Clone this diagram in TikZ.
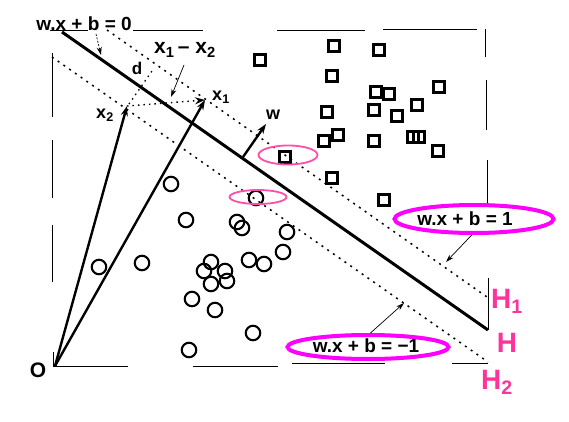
\documentclass[tikz,border=0pt]{standalone}
\usepackage{fontspec}
\setmainfont{Liberation Sans}
\usetikzlibrary{arrows.meta,shapes.geometric}
\definecolor{mag}{HTML}{FF00FF}
\definecolor{hpink}{HTML}{FF3399}
\definecolor{lpink}{HTML}{FF4FA8}
\tikzset{
  sq/.style={draw,rectangle,line width=2.6pt,minimum size=11pt,inner sep=0pt},
  ci/.style={draw,circle,line width=2.1pt,minimum size=14.5pt,inner sep=0pt},
  lab/.style={font=\bfseries\fontsize{19}{19}\selectfont,inner sep=0pt},
  slab/.style={font=\bfseries\fontsize{18}{18}\selectfont,inner sep=0pt},
  hlab/.style={font=\bfseries\fontsize{28}{28}\selectfont,text=hpink,inner sep=0pt},
  frame/.style={line width=0.9pt},
  hyper/.style={line width=3pt},
  margin/.style={line width=1.5pt,dash pattern=on 2pt off 5pt},
  vec/.style={line width=2.4pt,-{Stealth[length=10pt,width=7pt]}},
  thinarr/.style={line width=0.7pt,-{Stealth[length=8pt,width=5pt]}},
  dotarr/.style={line width=1.4pt,dash pattern=on 1.5pt off 4pt,-{Stealth[length=10pt,width=7pt]}},
  dotline/.style={line width=1.3pt,dash pattern=on 1.5pt off 4pt},
  bigell/.style={draw=mag,ellipse,line width=4pt,inner sep=0pt},
  smell/.style={draw=lpink,ellipse,line width=1.8pt,inner sep=0pt},
}
\begin{document}
\begin{tikzpicture}[x=1pt,y=-1pt]
\useasboundingbox (0,0) rectangle (569,422);
% frame
\draw[frame] (50,30)--(88,30) (133,30)--(203,30) (277,30)--(365,30) (383,29.5)--(477,29.5);
\draw[frame] (485,29)--(485,57) (486,80)--(486,130) (487,160)--(487,207) (488,278)--(488,330);
\draw[frame] (53,366)--(128,366) (193,366)--(278,366) (292,363)--(385,363) (452,363)--(488,363);
\draw[frame] (52,53)--(52,117) (52,140)--(52,198) (52,225)--(52,282) (53,352)--(53,366);
% hyperplanes
\coordinate (Hs) at (62,32); \coordinate (He) at (488,330);
\coordinate (H1s) at (107,30); \coordinate (H1e) at (487,297);
\coordinate (H2s) at (52,57); \coordinate (H2e) at (488,362);
\draw[hyper] (Hs)--(He);
\draw[margin] (H1s)--(H1e);
\draw[margin] (H2s)--(H2e);
% vectors
\coordinate (O) at (55,366);
\coordinate (x2t) at (127,106);
\coordinate (x1t) at (205,100);
\draw[vec] (O)--(x2t);
\draw[vec] (O)--(x1t);
\draw[dotarr] (x2t)--(x1t);
\coordinate (d1) at (129,104); \coordinate (d2) at (152,71);
\draw[dotline] (d1)--(d2);
\coordinate (ws) at (243,157); \coordinate (we) at (266,124);
\draw[vec] (ws)--(we);
% labels
\node[lab,anchor=base] (l0) at (84,31) {w.x + b = 0};
\coordinate (l0t) at (101,55);
\draw[thinarr,dash pattern=on 2pt off 1.5pt] (96,34) -- (l0t);
\node[font=\bfseries\fontsize{21}{21}\selectfont,inner sep=0pt] (ldiff) at (185,50) {x\textsubscript{1}\,– x\textsubscript{2}};
\coordinate (ldt) at (171,97);
\draw[thinarr] (184,65) -- (ldt);
\node[font=\bfseries\fontsize{17}{17}\selectfont,inner sep=0pt] (ld) at (137,68) {d};
\node[slab] (lx1) at (221,97) {x\textsubscript{1}};
\node[slab] (lx2) at (105,115) {x\textsubscript{2}};
\node[slab] (lw) at (273,115) {w};
\node[font=\bfseries\fontsize{21}{21}\selectfont,inner sep=0pt] (lO) at (38,370) {O};
\node[hlab,anchor=west] (lH1) at (491,301) {H\textsubscript{1}};
\node[hlab] (lH) at (507,343) {H};
\node[hlab,anchor=west] (lH2) at (481,382) {H\textsubscript{2}};
% ellipse labels
\node[bigell,minimum width=159pt,minimum height=28pt] (e1) at (474,219) {};
\node[lab] (t1) at (465,219) {w.x + b = 1};
\coordinate (e1t) at (446,262);
\draw[thinarr] (e1.262) -- (e1t);
\node[bigell,minimum width=161pt,minimum height=24pt] (e2) at (368,347) {};
\node[lab] (t2) at (366,346) {w.x + b = −1};
\coordinate (e2t) at (404,303);
\draw[thinarr] (e2.80) -- (e2t);
% squares
\foreach \n/\x/\y in {s1/334/46,s2/379/50,s3/332/76,s4/376/92,s5/389/94,s6/439/87,
  s7/327/112,s8/374/110,s9/397/116,s10/417/105,s11/324/141,s12/338/135,s13/374/141,
  s14/413/137,s15/419/137,s16/438/151,s17/332/178,s18/384/200,s19/285/157,s20/260/60}
  \node[sq] (\n) at (\x,\y) {};
% circles
\foreach \n/\x/\y in {c1/186/220,c2/237/222,c3/242/228,c4/287/232,c5/283/252,c6/99/267,
  c7/142/263,c8/211/262,c9/204/271,c10/225/271,c11/211/284,c12/227/281,c13/249/260,
  c14/264/264,c15/192/299,c16/215/310,c17/253/333,c18/189/350,c19/171/184,c20/256/198}
  \node[ci] (\n) at (\x,\y) {};
% support vector ellipses
\node[smell,minimum width=59pt,minimum height=19pt] (sv1) at (288,155) {};
\node[smell,minimum width=57pt,minimum height=14pt] (sv2) at (258,197) {};
\end{tikzpicture}
\end{document}
